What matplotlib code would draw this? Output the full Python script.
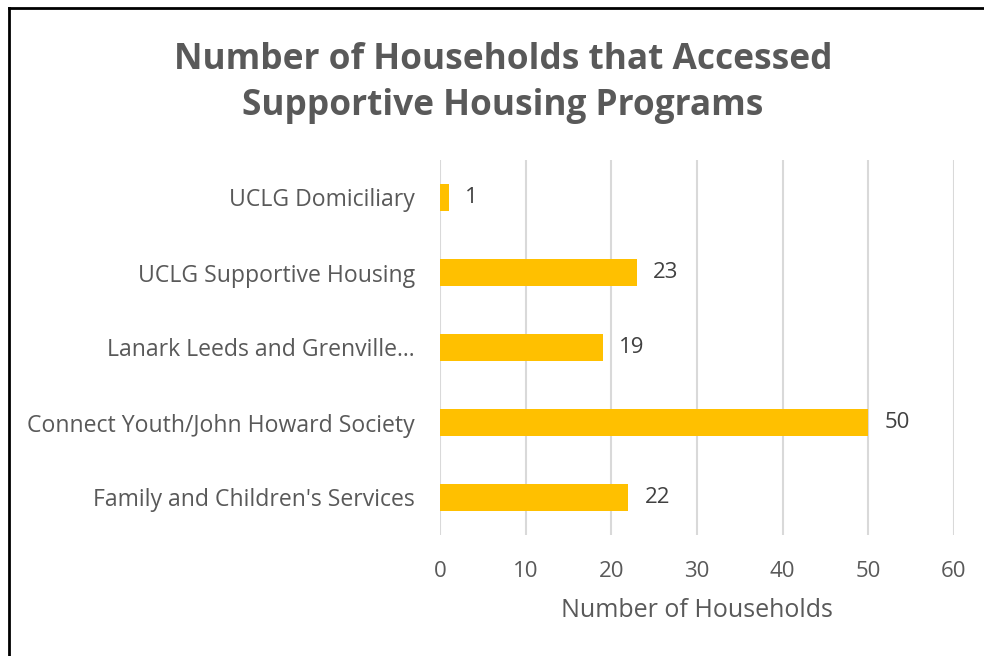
import matplotlib.pyplot as plt
from matplotlib.lines import Line2D

categories = ["UCLG Domiciliary", "UCLG Supportive Housing", "Lanark Leeds and Grenville...",
              "Connect Youth/John Howard Society", "Family and Children's Services"]
values = [1, 23, 19, 50, 22]
xticks = [0, 10, 20, 30, 40, 50, 60]

plt.rcParams['font.family'] = ['Open Sans', 'DejaVu Sans']

fig = plt.figure(figsize=(9.84, 6.56), dpi=100)
ax = fig.add_axes([440/984, 1-535/656, 514/984, 375/656])

y = list(range(len(categories)))
ax.barh(y, values, height=0.35, color='#FFC000', zorder=3)
for yi, v in zip(y, values):
    ax.text(v + 1.9, yi, str(v), va='center', ha='left', fontsize=16, color='#404040')

ax.set_xlim(0, 60)
ax.set_ylim(len(categories) - 0.5, -0.5)
ax.set_yticks(y)
ax.set_yticklabels(categories, fontsize=16.6, color='#595959')
ax.set_xticks(xticks)
ax.set_xticklabels([str(t) for t in xticks], fontsize=16, color='#595959')
ax.tick_params(length=0)
ax.tick_params(axis='x', pad=19)
ax.tick_params(axis='y', pad=18)
ax.grid(axis='x', color='#d9d9d9', linewidth=1.5, zorder=0)
for s in ax.spines.values():
    s.set_visible(False)
ax.set_xlabel('Number of Households', fontsize=18, color='#595959', labelpad=11)

fig.text(503/984, 1-83/656, 'Number of Households that Accessed\nSupportive Housing Programs',
         ha='center', va='center', fontsize=25.4, fontweight='bold', color='#595959', linespacing=1.38)

# outer border (top and left)
fig.add_artist(Line2D([9/984, 9/984], [0, 1-8/656], color='black', linewidth=2, transform=fig.transFigure))
fig.add_artist(Line2D([9/984, 1], [1-8/656, 1-8/656], color='black', linewidth=2, transform=fig.transFigure))

fig.savefig('out.png', dpi=100)
